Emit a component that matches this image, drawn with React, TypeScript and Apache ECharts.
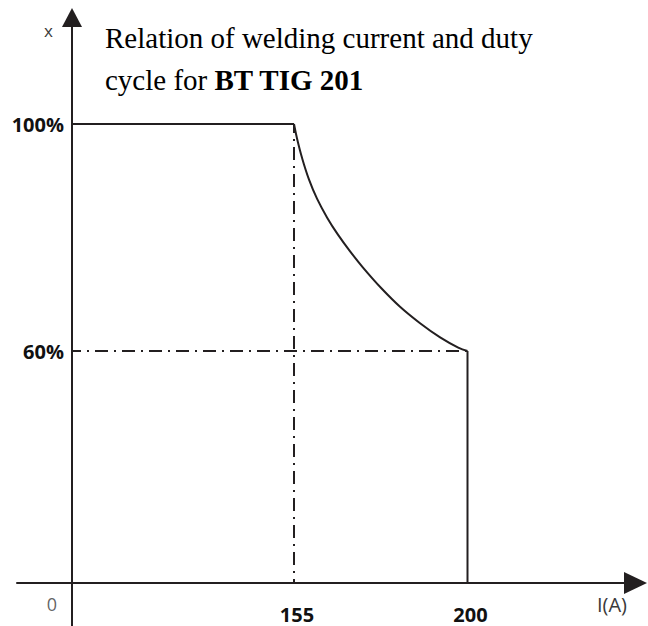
import React, { useEffect, useRef } from "react";
import * as echarts from "echarts";

// ---- data (real units) ----
const CURRENT_TICKS = [155, 200]; // I (A)
const DUTY_TICKS = [60, 100]; // X (%)
const FLAT_I = [0, 155];
const FLAT_X = [100, 100];
const CURVE_I = [155, 155.8, 157.1, 158.9, 161.0, 163.6, 166.4, 169.5, 172.9, 177.6, 182.5, 187.7, 192.9, 197.6, 200];
const CURVE_X = [100, 97.4, 94.0, 90.2, 86.8, 83.5, 80.5, 77.6, 74.7, 71.1, 67.8, 64.9, 62.4, 60.6, 60];
const DROP_I = [200, 200];
const DROP_X = [60, 0];
const GUIDE_V_I = [155, 155];
const GUIDE_V_X = [100, 0];
const GUIDE_H_I = [0, 200];
const GUIDE_H_X = [60, 60];

// ---- schematic (broken) scale definitions: real value -> axis unit ----
const X_SCALE: [number, number][] = [[0, 0], [155, 222], [200, 395.5]];
const Y_SCALE: [number, number][] = [[0, 0], [60, 232], [100, 459]];

function piecewise(v: number, s: [number, number][]) {
  let i = 0;
  while (i < s.length - 2 && v > s[i + 1][0]) i++;
  const [a0, b0] = s[i];
  const [a1, b1] = s[i + 1];
  return b0 + ((v - a0) * (b1 - b0)) / (a1 - a0);
}
const xs = (v: number) => piecewise(v, X_SCALE);
const ys = (v: number) => piecewise(v, Y_SCALE);
const pts = (a: number[], b: number[]) => a.map((v, i) => [xs(v), ys(b[i])]);

const INK = "#231f20";
const SANS = '"Open Sans", "DejaVu Sans", sans-serif';
const SERIF = '"Liberation Serif", "Times New Roman", serif';

function nearestLabel(v: number, ticks: number[], f: (t: number) => number, suffix: string) {
  let best = ticks[0];
  for (const t of ticks) if (Math.abs(f(t) - v) < Math.abs(f(best) - v)) best = t;
  return String(best) + suffix;
}

export default function App() {
  const ref = useRef<HTMLDivElement>(null);
  useEffect(() => {
    if (!ref.current) return;
    const chart = echarts.init(ref.current, null, { renderer: "svg" });
    const dash = { color: INK, width: 2, type: [13, 6, 2, 6] as any, dashOffset: 4 };
    const solid = { color: INK, width: 2 };
    chart.setOption({
      animation: false,
      title: {
        text: "Relation of welding current and duty\ncycle for {b|BT TIG 201}",
        left: 100,
        top: 12,
        textStyle: {
          fontFamily: SERIF,
          fontSize: 29,
          fontWeight: "normal",
          color: "#000",
          lineHeight: 42,
          rich: {
            b: { fontFamily: SERIF, fontSize: 29, fontWeight: "bold", color: "#000", lineHeight: 42 },
          },
        },
      },
      grid: {
        left: 17,
        right: 12.5,
        top: 17.5,
        bottom: 0,
        containLabel: false,
        outerBoundsMode: "none",
      },
      xAxis: {
        type: "value",
        min: -55,
        max: 563.5,
        splitLine: { show: false },
        axisTick: { show: false },
        axisLine: {
          onZero: true,
          symbol: ["none", "triangle"],
          symbolSize: [22, 23],
          lineStyle: { color: INK, width: 2 },
        },
        axisLabel: {
          customValues: CURRENT_TICKS.map(xs),
          formatter: (v: number) => "{b|" + nearestLabel(v, CURRENT_TICKS, xs, "") + "}",
          margin: -22,
          rich: {
            b: { fontFamily: SANS, fontSize: 20, fontWeight: "bold", color: "#111", padding: [0, 0, 0, 6] },
          },
        },
        name: "{n|I(A)}",
        nameLocation: "end",
        nameGap: -23.5,
        nameTextStyle: {
          align: "center",
          verticalAlign: "middle",
          rich: {
            n: { fontFamily: SANS, fontSize: 20, color: "#3a3a3a", padding: [42, 0, 0, 0] },
          },
        },
      },
      yAxis: {
        type: "value",
        min: -43,
        max: 565.5,
        splitLine: { show: false },
        axisTick: { show: false },
        axisLine: {
          onZero: true,
          symbol: ["none", "triangle"],
          symbolSize: [20, 19],
          lineStyle: { color: INK, width: 2 },
        },
        axisLabel: {
          customValues: DUTY_TICKS.map(ys),
          formatter: (v: number) => nearestLabel(v, DUTY_TICKS, ys, "%"),
          margin: -47,
          fontFamily: SANS,
          fontSize: 20,
          fontWeight: "bold",
          color: "#111",
        },
        name: "x",
        nameLocation: "end",
        nameGap: -13,
        nameTextStyle: {
          fontFamily: SANS,
          fontSize: 17,
          color: "#3a3a3a",
          align: "center",
          verticalAlign: "middle",
          padding: [0, 47, 0, 0],
        },
      },
      series: [
        { type: "line", data: pts(GUIDE_V_I, GUIDE_V_X), symbol: "none", lineStyle: dash, z: 2 },
        { type: "line", data: pts(GUIDE_H_I, GUIDE_H_X), symbol: "none", lineStyle: dash, z: 2 },
        { type: "line", data: pts(FLAT_I, FLAT_X), symbol: "none", lineStyle: solid, z: 3 },
        {
          type: "line",
          data: pts(CURVE_I, CURVE_X),
          symbol: "none",
          smooth: 0.4,
          lineStyle: solid,
          z: 3,
        },
        { type: "line", data: pts(DROP_I, DROP_X), symbol: "none", lineStyle: solid, z: 3 },
        {
          type: "scatter",
          data: [[xs(0), ys(0)]],
          symbolSize: 0,
          silent: true,
          label: {
            show: true,
            position: "inside",
            formatter: "0",
            offset: [-20, 20.5],
            fontFamily: SANS,
            fontSize: 18,
            color: "#3a3a3a",
          },
        },
      ],
    });
    return () => chart.dispose();
  }, []);
  return (
    <div
      ref={ref}
      style={{ position: "fixed", left: 0, top: 0, width: 648, height: 626, background: "#fff" }}
    />
  );
}
